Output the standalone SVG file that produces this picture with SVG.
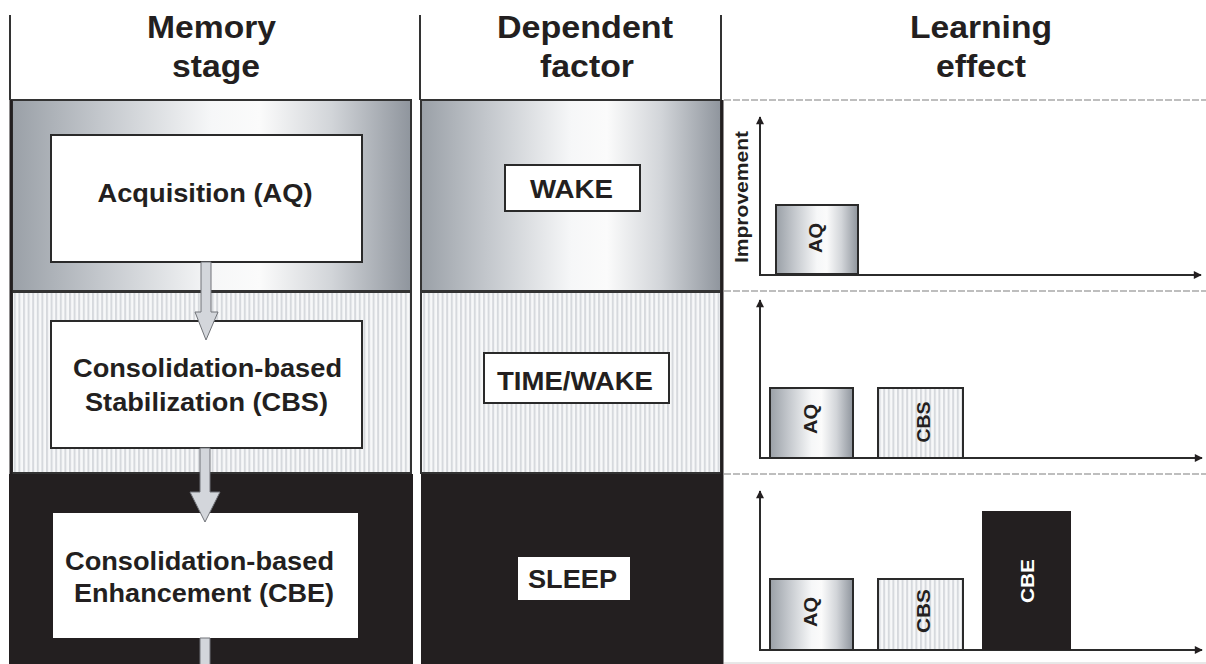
<svg xmlns="http://www.w3.org/2000/svg" width="1206" height="664" viewBox="0 0 1206 664">
<defs>
<linearGradient id="metal" x1="0" y1="0" x2="1" y2="0">
<stop offset="0" stop-color="#9aa0a7"/>
<stop offset="0.22" stop-color="#c3c7cc"/>
<stop offset="0.5" stop-color="#f6f7f8"/>
<stop offset="0.62" stop-color="#fbfbfb"/>
<stop offset="0.8" stop-color="#d2d5d9"/>
<stop offset="1" stop-color="#8f959d"/>
</linearGradient>
<pattern id="stripes" x="0" y="0" width="4.6" height="10" patternUnits="userSpaceOnUse">
<rect width="4.6" height="10" fill="#f7f8f9"/>
<rect x="0" width="2" height="10" fill="#d6d9dd"/>
</pattern>
<marker id="ah" viewBox="0 0 10 10" refX="9" refY="5" markerWidth="9" markerHeight="8" markerUnits="userSpaceOnUse" orient="auto">
<path d="M0,0 L10,5 L0,10 z" fill="#231f20"/>
</marker>
<style>
text{font-family:"Liberation Sans",Arial,sans-serif;font-weight:bold;fill:#231f20;text-anchor:middle}
.hd{font-size:31px}
.bx{font-size:26px}
.fc{font-size:26px}
.bl{font-size:19px}
.pan{stroke:#333;stroke-width:2}
.box{fill:#fff;stroke:#2a2a2a;stroke-width:2}
.bar{stroke:#2a2a2a;stroke-width:2}
.ax{stroke:#2b2b2b;stroke-width:2;fill:none;marker-end:url(#ah)}
.dl{stroke:#a9a9a9;stroke-width:1.5;stroke-dasharray:7 2}
.arr{fill:#d3d6db;stroke:#707378;stroke-width:1}
</style>
</defs>
<rect width="1206" height="664" fill="#fff"/>

<g id="header">
<line x1="10" y1="15" x2="10" y2="100" stroke="#333" stroke-width="2"/>
<line x1="420" y1="15" x2="420" y2="100" stroke="#333" stroke-width="2"/>
<line x1="721" y1="15" x2="721" y2="100" stroke="#333" stroke-width="2"/>
<text class="hd" x="211.5" y="38" textLength="129" lengthAdjust="spacingAndGlyphs">Memory</text>
<text class="hd" x="216" y="77" textLength="88" lengthAdjust="spacingAndGlyphs">stage</text>
<text class="hd" x="585" y="38" textLength="176" lengthAdjust="spacingAndGlyphs">Dependent</text>
<text class="hd" x="587" y="77" textLength="94" lengthAdjust="spacingAndGlyphs">factor</text>
<text class="hd" x="981" y="38" textLength="142" lengthAdjust="spacingAndGlyphs">Learning</text>
<text class="hd" x="981" y="77" textLength="90" lengthAdjust="spacingAndGlyphs">effect</text>
</g>

<g id="panels">
<rect class="pan" x="12" y="100" width="399" height="191" fill="url(#metal)"/>
<rect class="pan" x="421" y="100" width="300" height="191" fill="url(#metal)"/>
<rect class="pan" x="12" y="292" width="399" height="181" fill="url(#stripes)"/>
<rect class="pan" x="421" y="292" width="300" height="181" fill="url(#stripes)"/>
<rect x="9" y="474" width="404" height="190" fill="#231f20"/>
<rect x="421" y="474" width="300" height="190" fill="#231f20"/>
<line x1="11" y1="100" x2="11" y2="474" stroke="#231f20" stroke-width="3"/>
<line x1="722" y1="100" x2="722" y2="664" stroke="#231f20" stroke-width="3"/>
<line class="dl" x1="724" y1="100" x2="1206" y2="100"/>
<line class="dl" x1="724" y1="291" x2="1206" y2="291"/>
<line class="dl" x1="724" y1="474" x2="1206" y2="474"/>
<line x1="724" y1="663" x2="1206" y2="663" stroke="#d0d0d0" stroke-width="1"/>
</g>

<g id="aq-stage">
<rect class="box" x="51" y="135" width="311" height="127"/>
<text class="bx" x="205" y="202" textLength="215" lengthAdjust="spacingAndGlyphs">Acquisition (AQ)</text>
</g>

<g id="cbs-stage">
<rect class="box" x="51" y="321" width="311" height="127"/>
<text class="bx" x="207.5" y="377" textLength="269" lengthAdjust="spacingAndGlyphs">Consolidation-based</text>
<text class="bx" x="206.5" y="411" textLength="243" lengthAdjust="spacingAndGlyphs">Stabilization (CBS)</text>
</g>

<g id="cbe-stage">
<rect x="53" y="513" width="305" height="125" fill="#fff"/>
<text class="bx" x="199.5" y="570" textLength="269" lengthAdjust="spacingAndGlyphs">Consolidation-based</text>
<text class="bx" x="204" y="602" textLength="260" lengthAdjust="spacingAndGlyphs">Enhancement (CBE)</text>
</g>

<g id="wake">
<rect class="box" x="505" y="165" width="135" height="46"/>
<text class="fc" x="571.5" y="198" textLength="83" lengthAdjust="spacingAndGlyphs">WAKE</text>
</g>

<g id="timewake">
<rect class="box" x="484" y="353" width="185" height="50"/>
<text class="fc" x="575" y="390" textLength="156" lengthAdjust="spacingAndGlyphs">TIME/WAKE</text>
</g>

<g id="sleep">
<rect x="518" y="557" width="112" height="43" fill="#fff"/>
<text class="fc" x="572.5" y="588" textLength="89" lengthAdjust="spacingAndGlyphs">SLEEP</text>
</g>

<g id="connectors">
<path class="arr" d="M201,262 L211,262 L211,312 L218,312 L206,340 L195,312 L201,312 Z"/>
<path class="arr" d="M200,448 L210,448 L210,492 L220,492 L205,522 L190,492 L200,492 Z"/>
<path class="arr" d="M200,638 L210,638 L210,665 L200,665 Z"/>
</g>

<g id="chart-aq">
<line class="ax" x1="760" y1="275" x2="760" y2="117"/>
<line class="ax" x1="759" y1="275" x2="1201" y2="275"/>
<text class="bl" transform="translate(748,197) rotate(-90)" textLength="132" lengthAdjust="spacingAndGlyphs">Improvement</text>
<rect class="bar" x="776" y="205" width="82" height="69" fill="url(#metal)"/>
<text class="bl" transform="translate(822,238) rotate(-90)" textLength="30" lengthAdjust="spacingAndGlyphs">AQ</text>
</g>

<g id="chart-cbs">
<line class="ax" x1="760" y1="458" x2="760" y2="300"/>
<line class="ax" x1="759" y1="458" x2="1202" y2="458"/>
<rect class="bar" x="770" y="388" width="83" height="70" fill="url(#metal)"/>
<text class="bl" transform="translate(817,419) rotate(-90)" textLength="30" lengthAdjust="spacingAndGlyphs">AQ</text>
<rect class="bar" x="878" y="388" width="85" height="70" fill="url(#stripes)"/>
<text class="bl" transform="translate(930,422) rotate(-90)" textLength="41" lengthAdjust="spacingAndGlyphs">CBS</text>
</g>

<g id="chart-cbe">
<line class="ax" x1="760" y1="650" x2="760" y2="491"/>
<line class="ax" x1="759" y1="650" x2="1202" y2="650"/>
<rect class="bar" x="770" y="579" width="83" height="71" fill="url(#metal)"/>
<text class="bl" transform="translate(817,612) rotate(-90)" textLength="30" lengthAdjust="spacingAndGlyphs">AQ</text>
<rect class="bar" x="878" y="579" width="85" height="71" fill="url(#stripes)"/>
<text class="bl" transform="translate(930,611) rotate(-90)" textLength="44" lengthAdjust="spacingAndGlyphs">CBS</text>
<rect x="982" y="511" width="89" height="139" fill="#231f20"/>
<text class="bl" transform="translate(1034,581) rotate(-90)" textLength="44" lengthAdjust="spacingAndGlyphs" style="fill:#fff">CBE</text>
</g>
</svg>
